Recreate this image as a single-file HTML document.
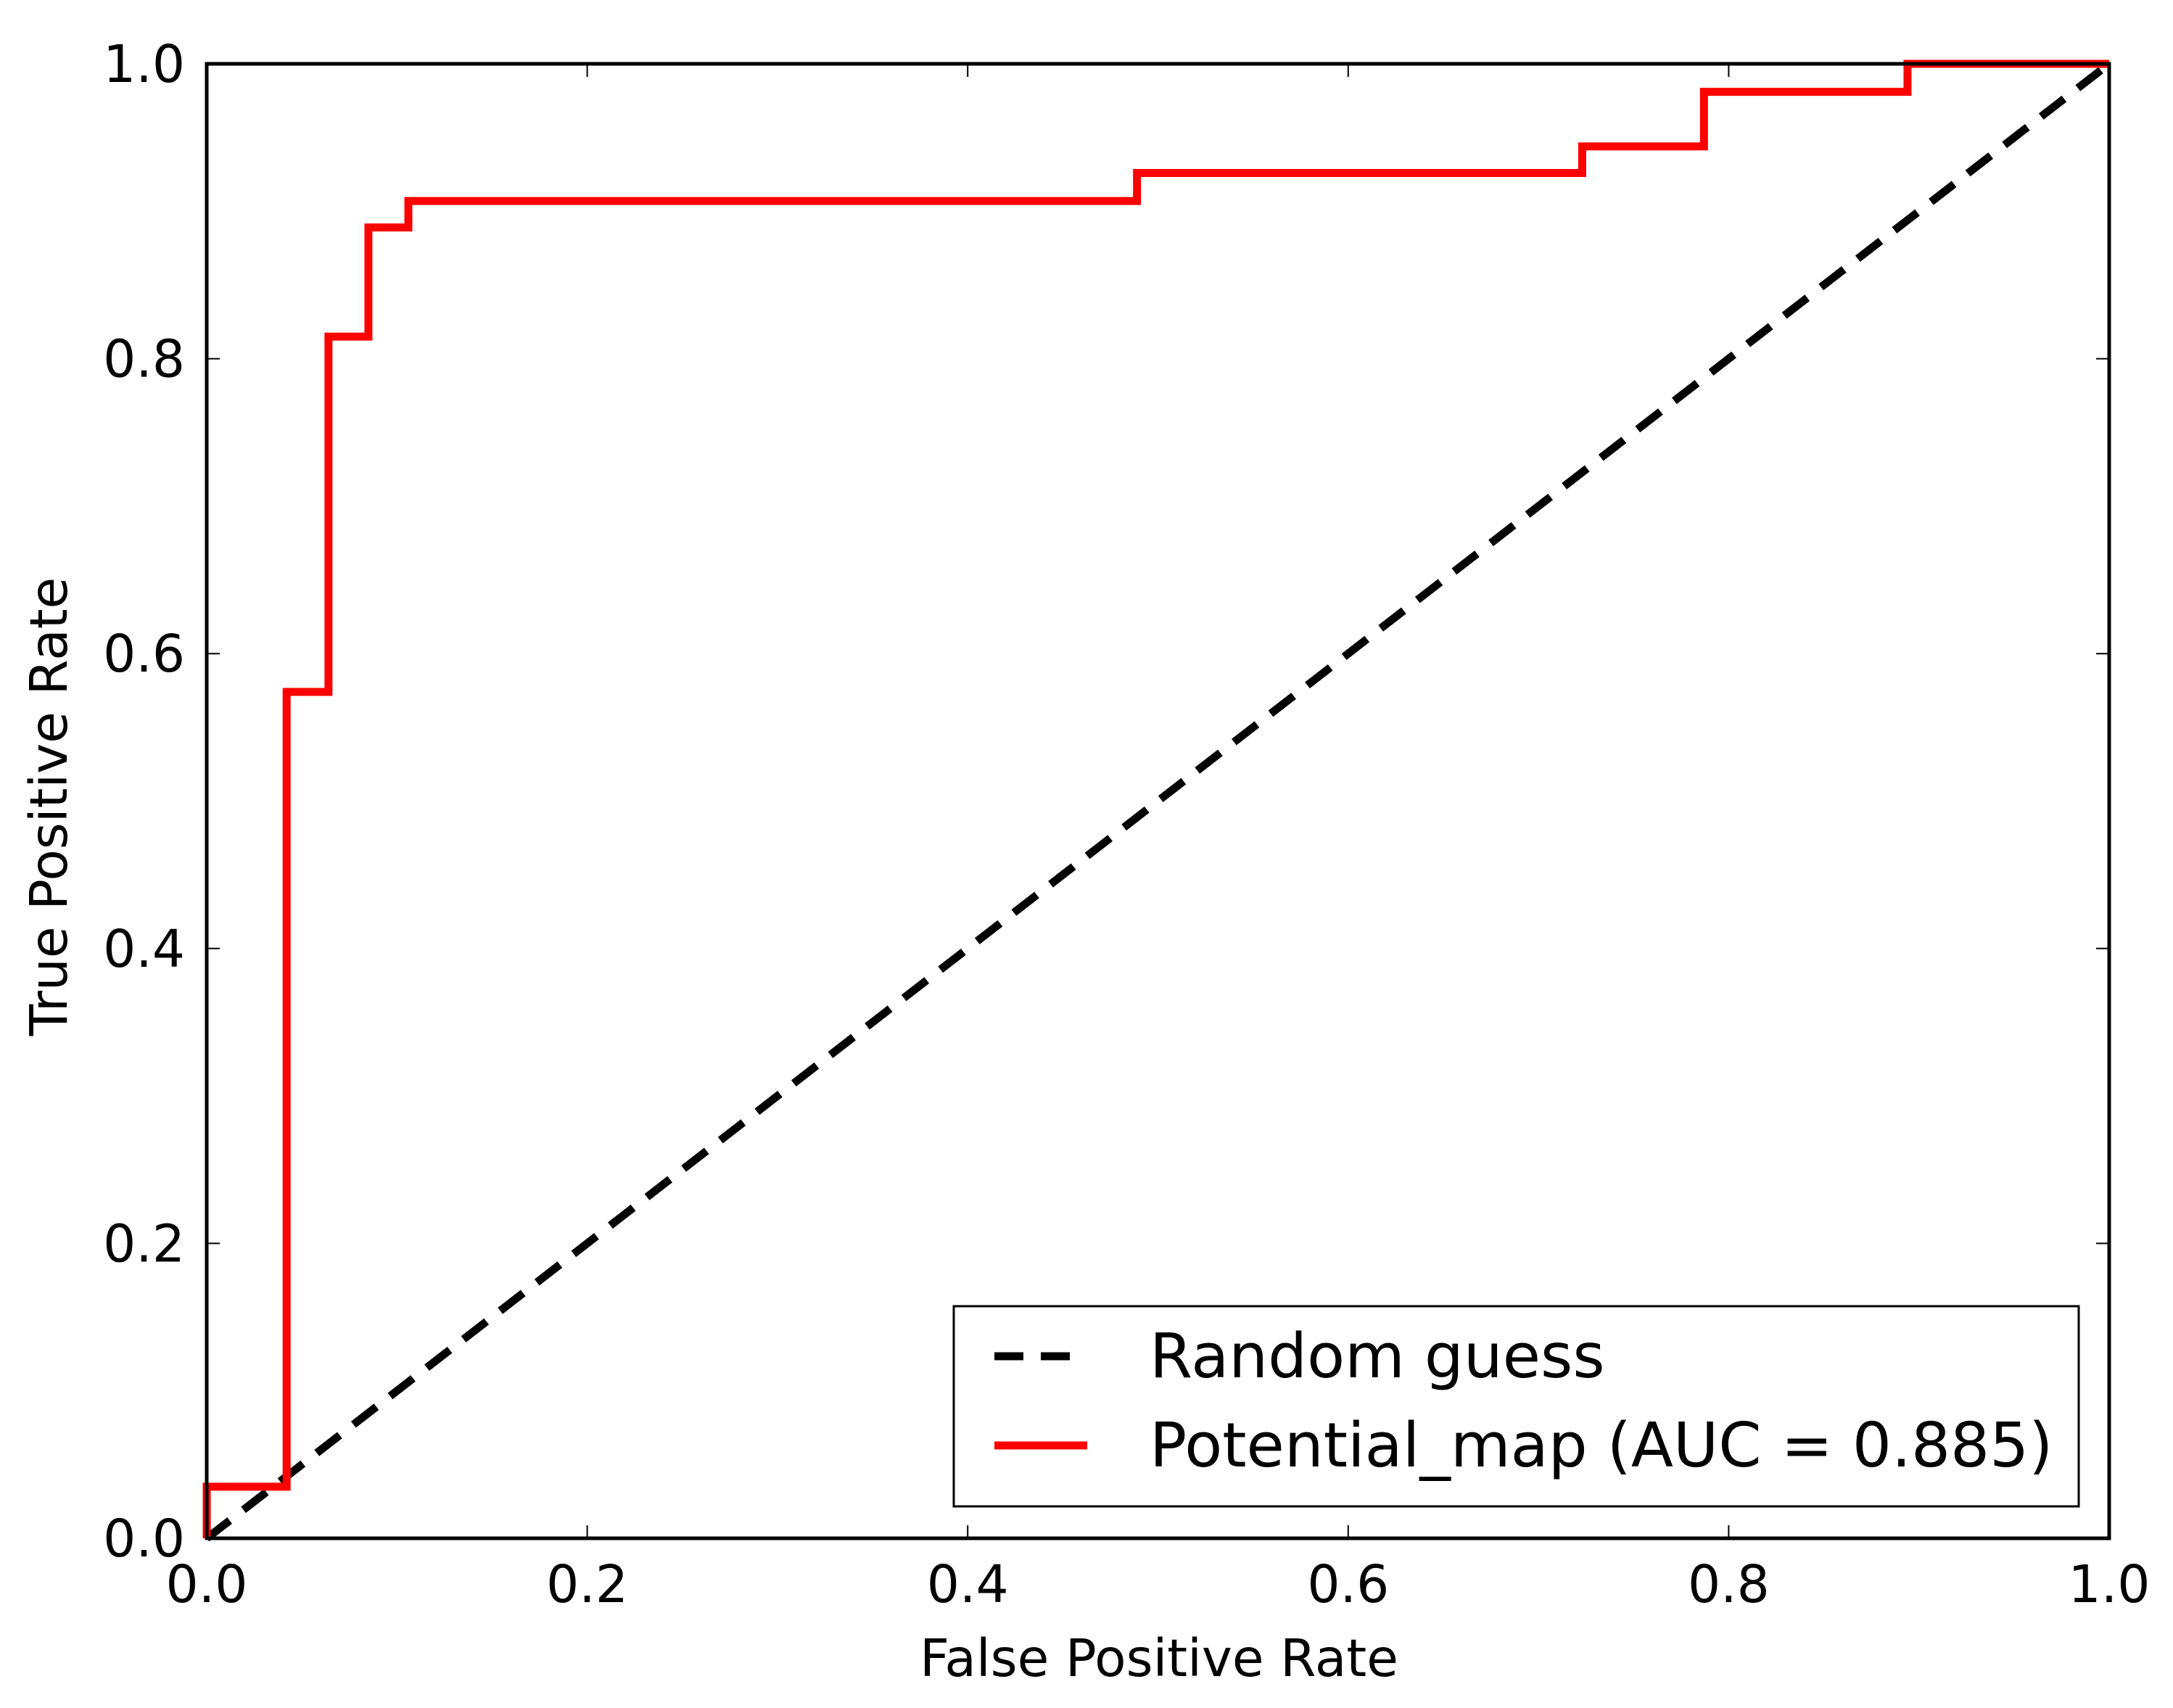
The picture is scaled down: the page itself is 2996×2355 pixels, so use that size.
<!DOCTYPE html>
<html><head><meta charset="utf-8"><style>
html,body{margin:0;padding:0;background:#fff;}
svg{display:block;}
text{font-family:"DejaVu Sans","Liberation Sans",sans-serif;fill:#000;}
</style></head><body>
<svg id="chart" width="2996" height="2355" viewBox="0 0 2996 2355" xmlns="http://www.w3.org/2000/svg">
<g id="plot"></g>
</svg>
<script>
const xTicks = [0.0, 0.2, 0.4, 0.6, 0.8, 1.0];
const yTicks = [0.0, 0.2, 0.4, 0.6, 0.8, 1.0];
const xTickLabels = ["0.0","0.2","0.4","0.6","0.8","1.0"];
const yTickLabels = ["0.0","0.2","0.4","0.6","0.8","1.0"];
const rocFpr = [0, 0, 0.042, 0.042, 0.064, 0.064, 0.085, 0.085, 0.106, 0.106, 0.489, 0.489, 0.723, 0.723, 0.787, 0.787, 0.894, 0.894, 1.0];
const rocTpr = [0, 0.035, 0.035, 0.574, 0.574, 0.815, 0.815, 0.889, 0.889, 0.907, 0.907, 0.926, 0.926, 0.944, 0.944, 0.981, 0.981, 1.0, 1.0];
const guessX = [0, 1];
const guessY = [0, 1];

const NS = "http://www.w3.org/2000/svg";
const L = 285, R = 2908, T = 88, B = 2121;
function sx(v){ return L + v * (R - L); }
function sy(v){ return B - v * (B - T); }
const g = document.getElementById('plot');
function mk(tag, attrs, parent){
  const e = document.createElementNS(NS, tag);
  for (const k in attrs) e.setAttribute(k, attrs[k]);
  (parent || g).appendChild(e);
  return e;
}

const gl = mk('polyline', {points: guessX.map((x,i)=>sx(x)+','+sy(guessY[i])).join(' '), fill:'none', stroke:'#000', 'stroke-width':11, 'stroke-dasharray':'40 24'});



const rl = mk('polyline', {points: rocFpr.map((x,i)=>sx(x)+','+sy(rocTpr[i])).join(' '), fill:'none', stroke:'#ff0000', 'stroke-width':11, 'stroke-linejoin':'miter'});



const fr = mk('rect', {x:L, y:T, width:R-L, height:B-T, fill:'none', stroke:'#000', 'stroke-width':5});



xTicks.forEach((v,i)=>{
  const x = sx(v);
  const t1 = mk('line', {x1:x, y1:B, x2:x, y2:B-18, stroke:'#000', 'stroke-width':2});
  
  
  const t2 = mk('line', {x1:x, y1:T, x2:x, y2:T+18, stroke:'#000', 'stroke-width':2});
  
  
  const tx = mk('text', {x:x, y:B+88, 'font-size':71, 'text-anchor':'middle'});
  tx.textContent = xTickLabels[i];
  
  
});
yTicks.forEach((v,i)=>{
  const y = sy(v);
  const t1 = mk('line', {x1:L, y1:y, x2:L+18, y2:y, stroke:'#000', 'stroke-width':2});
  
  
  const t2 = mk('line', {x1:R, y1:y, x2:R-18, y2:y, stroke:'#000', 'stroke-width':2});
  
  
  const ty = mk('text', {x:L-30, y:y+25, 'font-size':71, 'text-anchor':'end'});
  ty.textContent = yTickLabels[i];
  
  
});
</script>
<svg style="position:absolute;left:0;top:0" width="2996" height="2355" viewBox="0 0 2996 2355" xmlns="http://www.w3.org/2000/svg">
<text x="1598" y="2311" font-size="71" text-anchor="middle">False Positive Rate</text>
<text x="92" y="1112" font-size="71" text-anchor="middle" transform="rotate(-90 92 1112)">True Positive Rate</text>
<g>
<rect x="1315" y="1801" width="1551" height="276" fill="#fff" stroke="#000" stroke-width="3"/>
<line x1="1371" y1="1870" x2="1499" y2="1870" stroke="#000" stroke-width="11" stroke-dasharray="40 24"/>
<text x="1585" y="1899" font-size="85">Random guess</text>
<line x1="1371" y1="1993" x2="1499" y2="1993" stroke="#ff0000" stroke-width="11"/>
<text x="1585" y="2022" font-size="85">Potential_map (AUC = 0.885)</text>
</g>
</svg>
</body></html>
